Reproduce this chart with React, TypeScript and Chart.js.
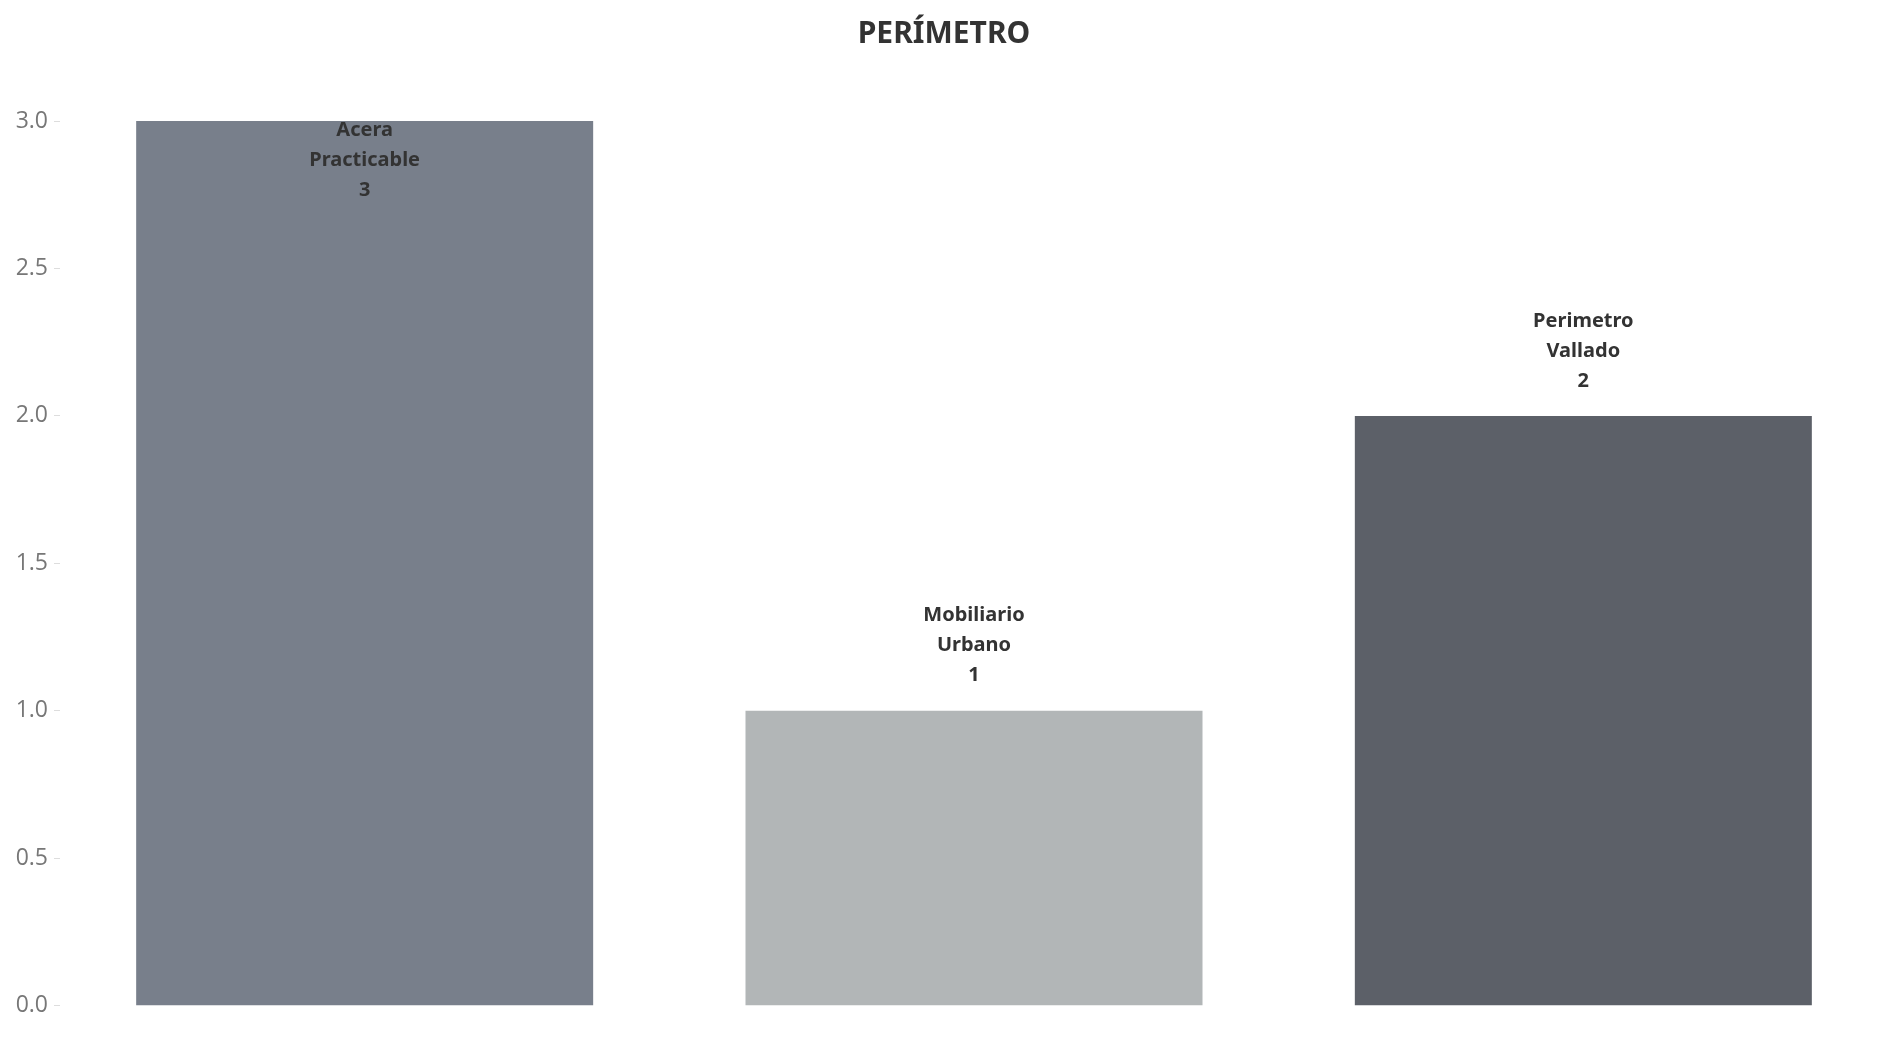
import React, { useEffect, useRef } from "react";
import { Chart, registerables } from "chart.js";
Chart.register(...registerables);

const categories = ["Acera\nPracticable", "Mobiliario\nUrbano", "Perimetro\nVallado"];
const values = [3, 1, 2];
const colors = ["#787f8b", "#b2b6b7", "#5c6068"];
const tickValues = [0, 0.5, 1, 1.5, 2, 2.5, 3];
const titleText = "PERÍMETRO";

export default function App() {
  const ref = useRef<HTMLCanvasElement>(null);
  useEffect(() => {
    document.body.style.margin = "0";
    const labelPlugin = {
      id: "labels",
      afterDatasetsDraw(chart: any) {
        const ctx = chart.ctx;
        ctx.save();
        ctx.fillStyle = "#333333";
        ctx.font = "bold 30px 'Noto Sans', 'Open Sans', sans-serif";
        ctx.textAlign = "center";
        ctx.textBaseline = "middle";
        ctx.fillText(titleText, 944, 34);
        ctx.font = "bold 20px 'Noto Sans', 'Open Sans', sans-serif";
        const meta = chart.getDatasetMeta(0);
        meta.data.forEach((bar: any, i: number) => {
          const lines = [...categories[i].split("\n"), String(values[i])];
          const lh = 30;
          let last = bar.y - 35;
          const minLast = 130 + lh * (lines.length - 1);
          if (last < minLast) last = minLast;
          lines.forEach((t, j) => {
            ctx.fillText(t, bar.x, last - (lines.length - 1 - j) * lh);
          });
        });
        ctx.restore();
      },
    };
    const chart = new Chart(ref.current!, {
      type: "bar",
      data: {
        labels: categories,
        datasets: [{ data: values, backgroundColor: colors, barPercentage: 0.75, categoryPercentage: 1 }],
      },
      options: {
        animation: false,
        responsive: false,
        layout: { padding: { top: 121, right: 0, bottom: -16, left: 0 } },
        plugins: { legend: { display: false }, tooltip: { enabled: false }, title: { display: false } },
        scales: {
          x: { display: false },
          y: {
            min: -0.056,
            max: 3,
            afterBuildTicks: (s: any) => { s.ticks = tickValues.map((v) => ({ value: v })); },
            afterFit: (s: any) => { s.width = 60; },
            border: { display: false },
            grid: { drawOnChartArea: false, tickLength: 6, color: "#dddddd" },
            ticks: {
              padding: 6,
              color: "#777777",
              font: { size: 23, family: "'Open Sans', 'Noto Sans', sans-serif" },
              callback: (v: any) => Number(v).toFixed(1),
            },
          },
        },
      },
      plugins: [labelPlugin],
    });
    return () => chart.destroy();
  }, []);
  return <canvas ref={ref} width={1888} height={1042} style={{ display: "block" }} />;
}
